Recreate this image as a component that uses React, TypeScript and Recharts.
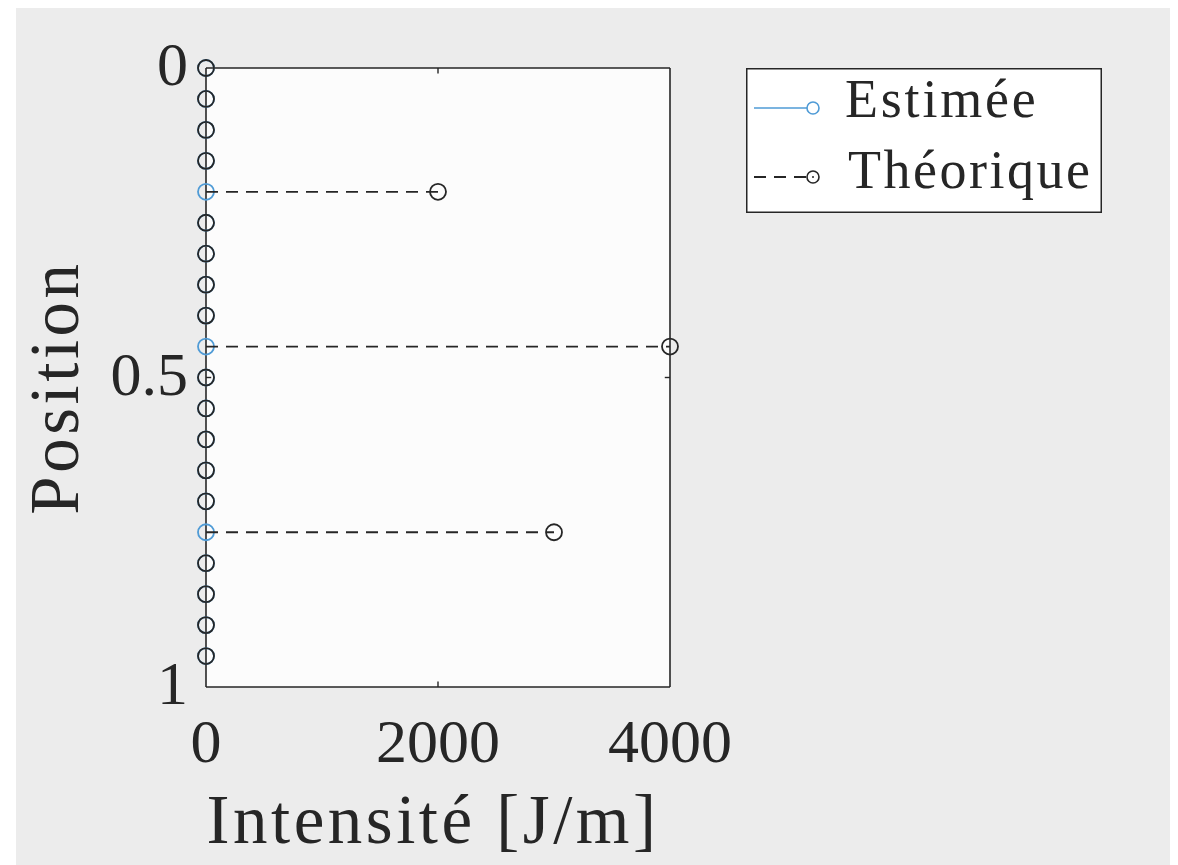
import { ScatterChart, Scatter, XAxis, YAxis, CartesianGrid, ReferenceLine, Legend, Label } from "recharts";

const positions = [0, 0.05, 0.1, 0.15, 0.2, 0.25, 0.3, 0.35, 0.4, 0.45, 0.5, 0.55, 0.6, 0.65, 0.7, 0.75, 0.8, 0.85, 0.9, 0.95];
const estimated = [0, 0, 0, 0, 0, 0, 0, 0, 0, 0, 0, 0, 0, 0, 0, 0, 0, 0, 0, 0];
const theoretical = [0, 0, 0, 0, 2000, 0, 0, 0, 0, 4000, 0, 0, 0, 0, 0, 3000, 0, 0, 0, 0];
const xTicks = [0, 2000, 4000];
const yTicks = [0, 0.5, 1];

const FONT = '"Liberation Serif", "Times New Roman", serif';
const INK = "#262626";
const BLUE = "#4f9bd6";

const estData = positions.map((p, i) => ({ x: estimated[i], y: p }));
const theoData = positions.map((p, i) => ({ x: theoretical[i], y: p }));
const stems = positions
  .map((p, i) => ({ p, v: theoretical[i] }))
  .filter((s) => s.v !== 0)
  .map((s) => [{ x: 0, y: s.p }, { x: s.v, y: s.p }]);

const circle = (color: string) => (props: any) => (
  <circle cx={props.cx} cy={props.cy} r={8} fill="none" stroke={color} strokeWidth={1.8} />
);
const nothing = () => <g />;

const YTick = ({ x, y, payload }: any) => (
  <text x={x - 18} y={y + 17} textAnchor="end" fontFamily={FONT} fontSize={62} fill={INK}>
    {payload.value}
  </text>
);

const XTick = ({ x, y, payload }: any) => (
  <text x={x} y={y + 75} textAnchor="middle" fontFamily={FONT} fontSize={62} fill={INK}>
    {payload.value}
  </text>
);

const LegendBox = () => (
  <svg width={356} height={145}>
    <rect x={0.75} y={0.75} width={354.5} height={143.5} fill="#ffffff" stroke={INK} strokeWidth={1.5} />
    <line x1={8} y1={40} x2={61} y2={40} stroke={BLUE} strokeWidth={1.6} />
    <circle cx={67} cy={40} r={6} fill="none" stroke={BLUE} strokeWidth={1.6} />
    <text x={99} y={49} fontFamily={FONT} fontSize={54} letterSpacing={2.8} fill={INK}>Estimée</text>
    <line x1={8} y1={109} x2={61} y2={109} stroke={INK} strokeWidth={1.8} strokeDasharray="12 8" />
    <circle cx={67} cy={109} r={6} fill="none" stroke={INK} strokeWidth={1.6} />
    <circle cx={67} cy={109} r={1} fill={INK} />
    <text x={102} y={120} fontFamily={FONT} fontSize={54} letterSpacing={2.5} fill={INK}>Théorique</text>
  </svg>
);

export default function App() {
  return (
    <div style={{ marginLeft: 8, marginTop: -4, width: 1156, height: 861, background: "#ececec" }}>
      <ScatterChart width={1156} height={861} margin={{ top: 64, right: 502, bottom: 18, left: 70 }}>
        <CartesianGrid fill="#fcfcfc" horizontal={false} vertical={false} />
        <XAxis
          type="number"
          dataKey="x"
          domain={[0, 4000]}
          ticks={xTicks}
          interval={0}
          height={160}
          tickSize={0}
          tickMargin={0}
          tick={XTick}
          axisLine={{ stroke: INK, strokeWidth: 1.6 }}
        >
          <Label
            content={({ viewBox }: any) => (
              <text
                x={viewBox.x + viewBox.width / 2 - 5}
                y={viewBox.y + 156}
                textAnchor="middle"
                fontFamily={FONT}
                fontSize={69}
                letterSpacing={3.5}
                fill={INK}
              >
                Intensité [J/m]
              </text>
            )}
          />
        </XAxis>
        <YAxis
          type="number"
          dataKey="y"
          domain={[0, 1]}
          reversed
          ticks={yTicks}
          interval={0}
          width={120}
          tickSize={0}
          tickMargin={0}
          tick={YTick}
          axisLine={{ stroke: INK, strokeWidth: 1.6 }}
        >
          <Label
            content={({ viewBox }: any) => {
              const cx = viewBox.x - 8;
              const cy = viewBox.y + viewBox.height / 2 + 10;
              return (
                <text
                  x={cx}
                  y={cy}
                  transform={`rotate(-90, ${cx}, ${cy})`}
                  textAnchor="middle"
                  fontFamily={FONT}
                  fontSize={69}
                  letterSpacing={3.5}
                  fill={INK}
                >
                  Position
                </text>
              );
            }}
          />
        </YAxis>
        <ReferenceLine y={0} stroke={INK} strokeWidth={1.6} />
        <ReferenceLine x={4000} stroke={INK} strokeWidth={1.6} />
        <ReferenceLine segment={[{ x: 2000, y: 0 }, { x: 2000, y: 0.009 }]} stroke={INK} strokeWidth={1.4} />
        <ReferenceLine segment={[{ x: 2000, y: 1 }, { x: 2000, y: 0.991 }]} stroke={INK} strokeWidth={1.4} />
        <ReferenceLine segment={[{ x: 0, y: 0.5 }, { x: 45, y: 0.5 }]} stroke={INK} strokeWidth={1.4} />
        <ReferenceLine segment={[{ x: 4000, y: 0.5 }, { x: 3955, y: 0.5 }]} stroke={INK} strokeWidth={1.4} />
        <Legend
          layout="horizontal"
          verticalAlign="middle"
          align="center"
          wrapperStyle={{ left: 730, top: 64, width: 356, height: 145 }}
          content={LegendBox}
        />
        <Scatter name="Estimée" data={estData} shape={circle(BLUE)} isAnimationActive={false} legendType="none" />
        {stems.map((d, i) => (
          <Scatter
            key={i}
            data={d}
            shape={nothing}
            line={{ stroke: INK, strokeWidth: 1.8, strokeDasharray: "12 8" }}
            isAnimationActive={false}
            legendType="none"
          />
        ))}
        <Scatter name="Théorique" data={theoData} shape={circle(INK)} isAnimationActive={false} legendType="none" />
      </ScatterChart>
    </div>
  );
}
